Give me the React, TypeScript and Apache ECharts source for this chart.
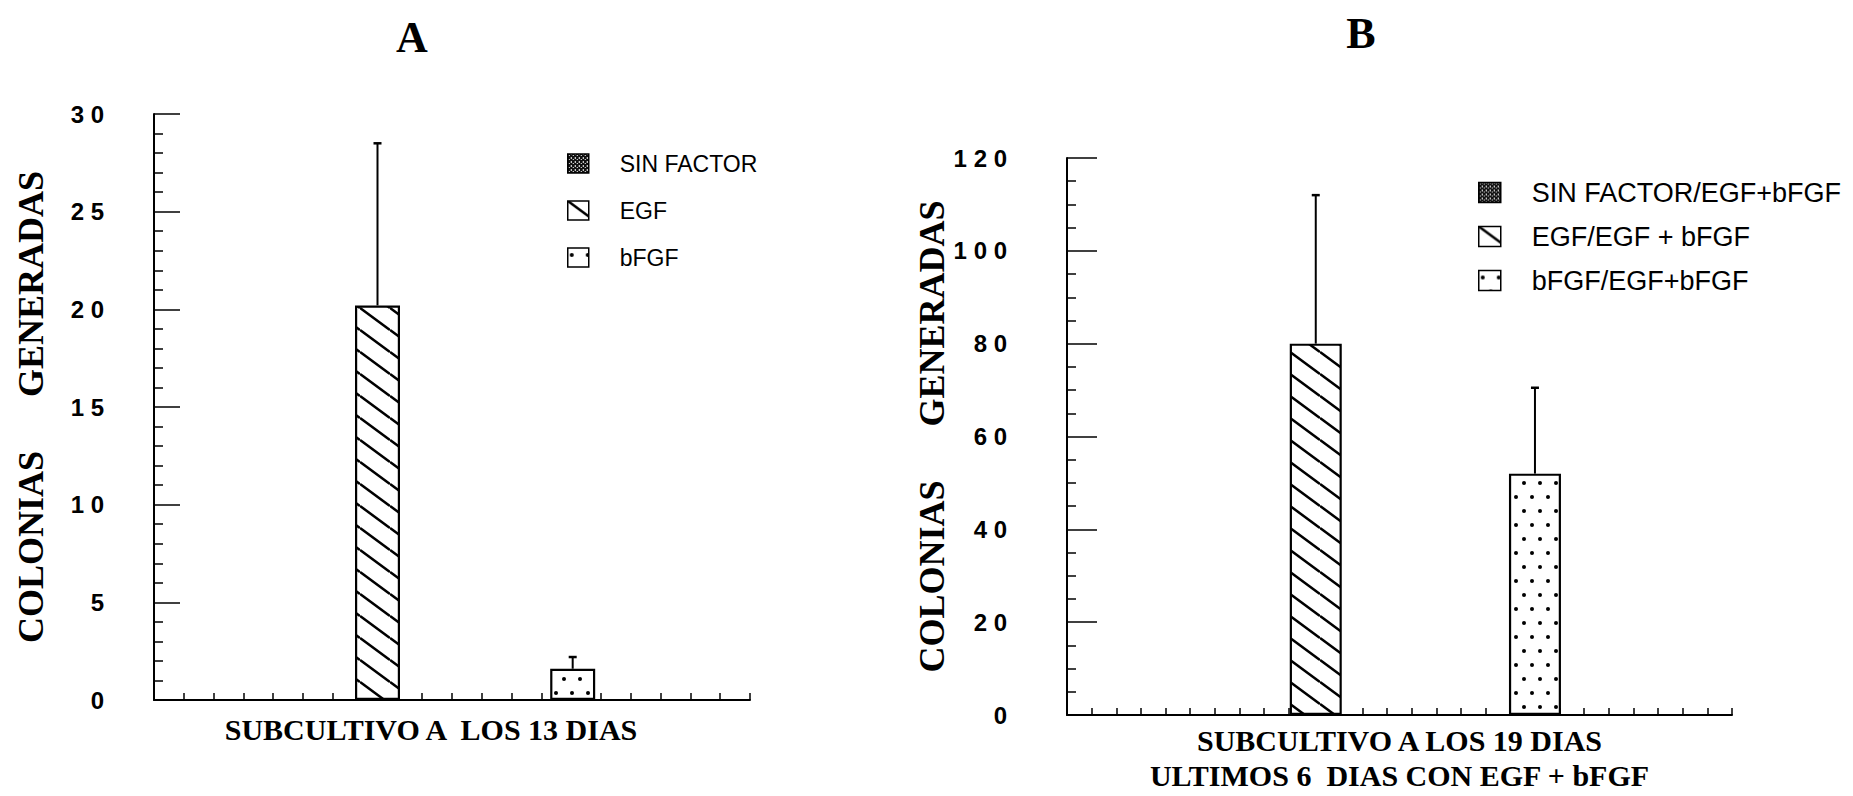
import React, { useEffect, useRef } from "react";
import * as echarts from "echarts";

// ---------- data ----------
const titleA = "A";
const titleB = "B";
const seriesA = ["SIN FACTOR", "EGF", "bFGF"];
const seriesB = ["SIN FACTOR/EGF+bFGF", "EGF/EGF + bFGF", "bFGF/EGF+bFGF"];
const meanA = [0, 20.2, 1.6];
const errA = [0, 8.3, 0.6];
const meanB = [0, 80, 52];
const errB = [0, 32, 18.5];
// bar centres on the (unlabelled) tick scale of each x axis
const slotA = [1, 7.5, 14.05];
const slotB = [1.2, 10.1, 19.0];
const xTicksA = 20;
const xTicksB = 27;
const yMaxA = 30;
const yStepA = 5;
const yMaxB = 120;
const yStepB = 20;
const xNameA = "SUBCULTIVO A  LOS 13 DIAS";
const xNameB = "SUBCULTIVO A LOS 19 DIAS\nULTIMOS 6  DIAS CON EGF + bFGF";
const yName = "COLONIAS      GENERADAS";

// ---------- patterns ----------
function makeCanvas(w: number, h: number, draw: (ctx: CanvasRenderingContext2D) => void) {
  const c = document.createElement("canvas");
  c.width = w;
  c.height = h;
  const ctx = c.getContext("2d") as CanvasRenderingContext2D;
  ctx.fillStyle = "#fff";
  ctx.fillRect(0, 0, w, h);
  draw(ctx);
  return c;
}
function hatch(w: number, h: number, lw: number) {
  const c = makeCanvas(w, h, (ctx) => {
    ctx.strokeStyle = "#000";
    ctx.lineWidth = lw;
    for (let k = -1; k <= 1; k++) {
      ctx.beginPath();
      ctx.moveTo(0, k * h);
      ctx.lineTo(w, (k + 1) * h);
      ctx.stroke();
    }
  });
  return { image: c, repeat: "repeat", imageWidth: w, imageHeight: h };
}
function dots(w: number, h: number, r: number) {
  const c = makeCanvas(w, h, (ctx) => {
    ctx.fillStyle = "#000";
    ctx.beginPath();
    ctx.arc(w * 0.25, h * 0.25, r, 0, Math.PI * 2);
    ctx.fill();
    ctx.beginPath();
    ctx.arc(w * 0.75, h * 0.75, r, 0, Math.PI * 2);
    ctx.fill();
  });
  return { image: c, repeat: "repeat", imageWidth: w, imageHeight: h };
}
function checker() {
  const c = makeCanvas(4, 4, (ctx) => {
    ctx.fillStyle = "#111";
    ctx.fillRect(0, 0, 4, 4);
    ctx.fillStyle = "#fff";
    ctx.fillRect(1, 1, 1, 1);
    ctx.fillRect(3, 3, 1, 1);
    ctx.fillRect(3, 0, 1, 1);
  });
  return { image: c, repeat: "repeat", imageWidth: 4, imageHeight: 4 };
}

const serifBold = { fontFamily: "Liberation Serif", fontWeight: "bold", color: "#000" };
const sansBold = { fontFamily: "Liberation Sans", fontWeight: "bold", color: "#000" };
const spaced = (v: number) => String(v).split("").join(" ");

function buildOption() {
  const patterns = [checker(), hatch(30, 22, 2.6), dots(16, 28, 2)];

  const barSeries = (names: string[], means: number[], slots: number[], idx: number, bw: number) =>
    names.map((name, i) => ({
      type: "bar",
      name,
      xAxisIndex: idx,
      yAxisIndex: idx,
      barWidth: bw,
      barGap: "-100%",
      data: [[slots[i], means[i]]],
      itemStyle: { color: patterns[i], borderColor: "#000", borderWidth: 2.2 },
      z: 2,
    }));

  const errSeries = (means: number[], errs: number[], slots: number[], idx: number) => ({
    type: "custom",
    xAxisIndex: idx,
    yAxisIndex: idx,
    silent: true,
    z: 3,
    data: slots
      .map((x, i) => [x, means[i], means[i] + errs[i]])
      .filter((d) => d[2] > d[1]),
    renderItem: (_p: any, api: any) => {
      const p0 = api.coord([api.value(0), api.value(1)]);
      const p1 = api.coord([api.value(0), api.value(2)]);
      return {
        type: "group",
        children: [
          { type: "line", shape: { x1: p0[0], y1: p0[1], x2: p1[0], y2: p1[1] }, style: { stroke: "#000", lineWidth: 2 } },
          { type: "line", shape: { x1: p1[0] - 4, y1: p1[1], x2: p1[0] + 4, y2: p1[1] }, style: { stroke: "#000", lineWidth: 2.5 } },
        ],
      };
    },
  });

  const xAxis = (idx: number, max: number, name: string, pad: number[], gap: number) => ({
    gridIndex: idx,
    type: "value",
    min: 0,
    max,
    interval: 1,
    axisLine: { show: true, lineStyle: { color: "#000", width: 2 } },
    axisTick: { show: true, inside: true, length: 7, lineStyle: { color: "#000", width: 1.5 } },
    axisLabel: { show: false },
    splitLine: { show: false },
    name,
    nameLocation: "middle",
    nameGap: gap,
    nameTextStyle: { ...serifBold, fontSize: 30, lineHeight: 35, padding: pad },
  });

  const yAxis = (idx: number, max: number, step: number, margin: number, tickLen: number, nameGap: number) => ({
    gridIndex: idx,
    type: "value",
    min: 0,
    max,
    interval: step,
    axisLine: { show: true, lineStyle: { color: "#000", width: 2 } },
    axisTick: { show: true, inside: true, length: tickLen, lineStyle: { color: "#000", width: 1.5 } },
    minorTick: { show: true, splitNumber: step === 5 ? 5 : 4, length: 9, lineStyle: { color: "#000", width: 1.5 } },
    splitLine: { show: false },
    axisLabel: { margin, formatter: spaced, ...sansBold, fontSize: 24 },
    name: yName,
    nameLocation: "middle",
    nameGap,
    nameTextStyle: { ...serifBold, fontSize: 36 },
  });

  const legend = (names: string[], left: number, top: number, iw: number, ih: number, gap: number, fs: number) => ({
    data: names,
    orient: "vertical",
    left,
    top,
    padding: 0,
    itemWidth: iw,
    itemHeight: ih,
    itemGap: gap,
    icon: "rect",
    selectedMode: false,
    itemStyle: { borderColor: "#000", borderWidth: 1.5 },
    textStyle: { fontFamily: "Liberation Sans", fontSize: fs, color: "#000", padding: [0, 0, 0, 26] },
  });

  return {
    animation: false,
    backgroundColor: "#fff",
    graphic: [
      { type: "text", x: 412, y: 37, style: { text: titleA, ...serifBold, fill: "#000", fontSize: 44, align: "center", verticalAlign: "middle" } },
      { type: "text", x: 1361, y: 33, style: { text: titleB, ...serifBold, fill: "#000", fontSize: 44, align: "center", verticalAlign: "middle" } },
    ],
    grid: [
      { left: 154, top: 114, width: 596, height: 586, outerBoundsMode: "none", containLabel: false },
      { left: 1067, top: 158, width: 665, height: 557, outerBoundsMode: "none", containLabel: false },
    ],
    xAxis: [xAxis(0, xTicksA, xNameA, [0, 42, 0, 0], 12), xAxis(1, xTicksB, xNameB, [0, 0, 0, 0], 8)],
    yAxis: [yAxis(0, yMaxA, yStepA, 50, 26, 105), yAxis(1, yMaxB, yStepB, 60, 30, 112)],
    legend: [
      legend(seriesA, 567, 152, 21, 19, 24, 23),
      legend(seriesB, 1478, 179, 22, 20, 17, 27),
    ],
    series: [
      ...barSeries(seriesA, meanA, slotA, 0, 45),
      errSeries(meanA, errA, slotA, 0),
      ...barSeries(seriesB, meanB, slotB, 1, 52),
      errSeries(meanB, errB, slotB, 1),
    ],
  };
}

export default function App() {
  const ref = useRef<HTMLDivElement>(null);
  useEffect(() => {
    if (!ref.current) return;
    const chart = echarts.init(ref.current, null, { renderer: "svg" });
    chart.setOption(buildOption() as any);
    return () => chart.dispose();
  }, []);
  return (
    <div
      ref={ref}
      style={{ position: "fixed", left: 0, top: 0, width: 1853, height: 796, background: "#fff" }}
    />
  );
}
